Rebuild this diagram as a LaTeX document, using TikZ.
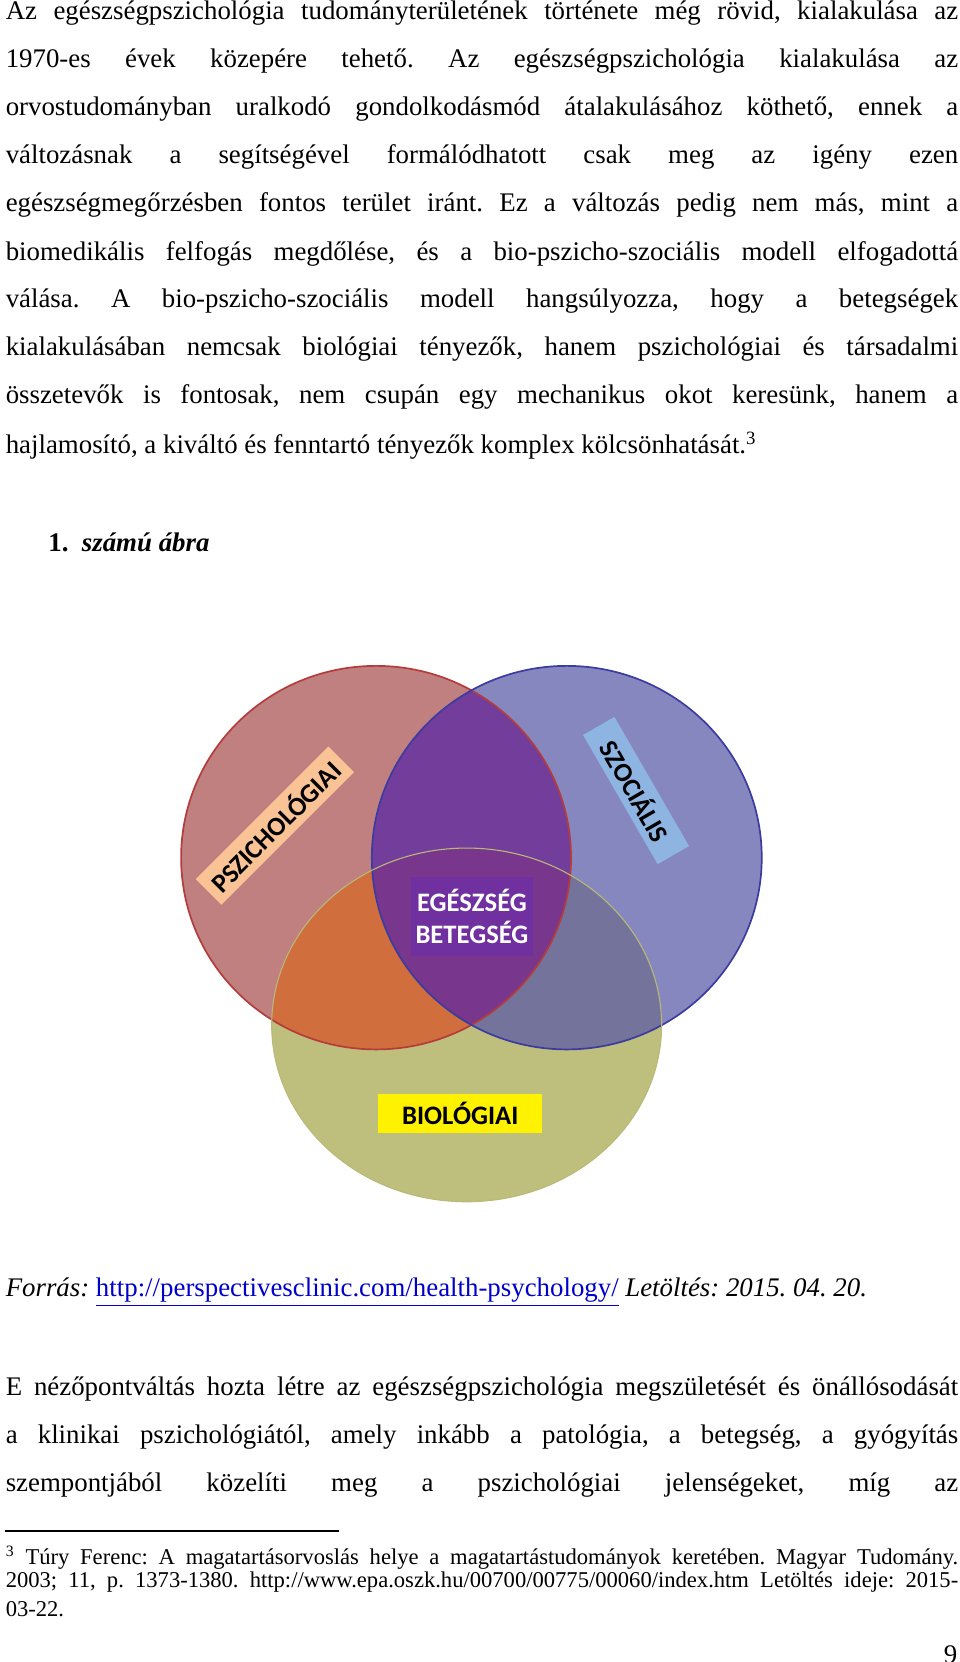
\documentclass[tikz,border=0pt]{standalone}
\usepackage{fontspec}
\setmainfont{Liberation Serif}
\newfontfamily\carlitofont{Carlito}
\frenchspacing
\begin{document}
\begin{tikzpicture}[x=0.5pt,y=-0.5pt,
  ln/.style={anchor=west,inner sep=0pt,font=\fontsize{12.6}{14}\selectfont},
  fn/.style={anchor=west,inner sep=0pt,font=\fontsize{10.6}{12}\selectfont},
  lab/.style={inner sep=0pt,font=\carlitofont\bfseries\fontsize{12.5}{14}\selectfont}]
\useasboundingbox (0,0) rectangle (901,1560);
\def\R{(353,805) ellipse [x radius=183,y radius=180]}
\def\B{(532,805) ellipse [x radius=183,y radius=180]}
\def\Y{(438,962) ellipse [x radius=183,y radius=166]}
\definecolor{cr}{RGB}{192,128,128}\definecolor{cb}{RGB}{135,135,192}
\definecolor{cy}{RGB}{190,190,125}\definecolor{crb}{RGB}{115,62,155}
\definecolor{cry}{RGB}{208,110,62}\definecolor{cby}{RGB}{115,115,155}
\definecolor{crby}{RGB}{120,55,140}
\fill[cy] \Y; \fill[cr] \R; \fill[cb] \B;
\begin{scope}\clip \R; \fill[crb] \B; \fill[cry] \Y; \end{scope}
\begin{scope}\clip \B; \fill[cby] \Y; \end{scope}
\begin{scope}\clip \R; \clip \B; \fill[crby] \Y; \end{scope}
\draw[draw={rgb,255:red,180;green,60;blue,60},line width=0.8pt] \R;
\draw[draw={rgb,255:red,60;green,60;blue,160},line width=0.8pt] \B;
\draw[draw={rgb,255:red,185;green,185;blue,120},line width=0.5pt] \Y;
\node[lab,fill={rgb,255:red,250;green,195;blue,150},rotate=45,minimum width=88pt,minimum height=17pt] (psz) at (258,775) {PSZICHOLÓGIAI};
\node[lab,fill={rgb,255:red,142;green,180;blue,226},rotate=-60,minimum width=70pt,minimum height=17pt] (szo) at (597,742) {SZOCIÁLIS};
\node[lab,fill={rgb,255:red,112;green,48;blue,160},text=white,minimum width=57pt,minimum height=37pt,align=center] (eb) at (443,860) {EGÉSZSÉG\\[1pt]BETEGSÉG};
\node[lab,fill=yellow,minimum width=77pt,minimum height=18pt] (bio) at (432,1045) {BIOLÓGIAI};
% text
\node[ln] (l1) at (5,12) {\makebox[447pt][s]{Az egészségpszichológia tudományterületének története még rövid, kialakulása az}};
\node[ln] (l2) at (5,57) {\makebox[447pt][s]{1970-es évek közepére tehető. Az egészségpszichológia kialakulása az}};
\node[ln] (l3) at (5,102) {\makebox[447pt][s]{orvostudományban uralkodó gondolkodásmód átalakulásához köthető, ennek a}};
\node[ln] (l4) at (5,147) {\makebox[447pt][s]{változásnak a segítségével formálódhatott csak meg az igény ezen}};
\node[ln] (l5) at (5,192) {\makebox[447pt][s]{egészségmegőrzésben fontos terület iránt. Ez a változás pedig nem más, mint a}};
\node[ln] (l6) at (5,238) {\makebox[447pt][s]{biomedikális felfogás megdőlése, és a bio-pszicho-szociális modell elfogadottá}};
\node[ln] (l7) at (5,283) {\makebox[447pt][s]{válása. A bio-pszicho-szociális modell hangsúlyozza, hogy a betegségek}};
\node[ln] (l8) at (5,328) {\makebox[447pt][s]{kialakulásában nemcsak biológiai tényezők, hanem pszichológiai és társadalmi}};
\node[ln] (l9) at (5,373) {\makebox[447pt][s]{összetevők is fontosak, nem csupán egy mechanikus okot keresünk, hanem a}};
\node[ln] (l10) at (5,418) {hajlamosító, a kiváltó és fenntartó tényezők komplex kölcsönhatását.\textsuperscript{3}};
\node[ln] (cap) at (45,509) {\textbf{1.\ \ \textit{számú ábra}}};
\node[ln] (src) at (5,1213) {\textit{Forrás:} {\color{blue!80!black}\underline{http://perspectivesclinic.com/health-psychology/}} \textit{Letöltés: 2015. 04. 20.}};
\node[ln] (p1) at (5,1304) {\makebox[447pt][s]{E nézőpontváltás hozta létre az egészségpszichológia megszületését és önállósodását}};
\node[ln] (p2) at (5,1349) {\makebox[447pt][s]{a klinikai pszichológiától, amely inkább a patológia, a betegség, a gyógyítás}};
\node[ln] (p3) at (5,1394) {\makebox[447pt][s]{szempontjából közelíti meg a pszichológiai jelenségeket, míg az}};
\draw[line width=0.5pt] (5,1437) -- (318,1437);
\node[fn] (f1) at (5,1462) {\makebox[447pt][s]{\textsuperscript{3} Túry Ferenc: A magatartásorvoslás helye a magatartástudományok keretében. Magyar Tudomány.}};
\node[fn] (f2) at (5,1485) {\makebox[447pt][s]{2003; 11, p. 1373-1380. http://www.epa.oszk.hu/00700/00775/00060/index.htm Letöltés ideje: 2015-}};
\node[fn] (f3) at (5,1510) {03-22.};
\node[ln,anchor=east] (pg) at (899,1553) {9};
\end{tikzpicture}
\end{document}
